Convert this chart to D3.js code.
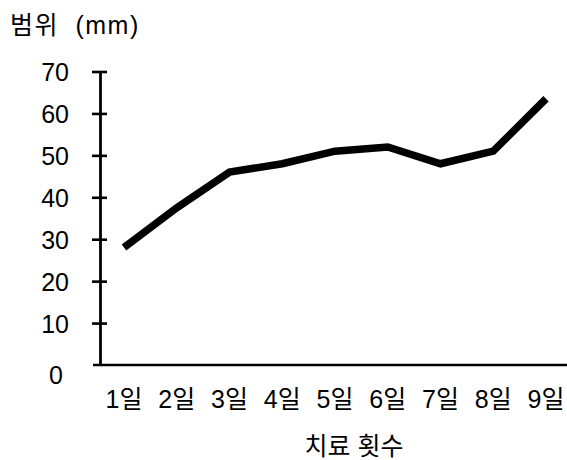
<!DOCTYPE html>
<html><head><meta charset="utf-8">
<script src="https://cdn.jsdelivr.net/npm/d3@7"></script>
<style>
body{margin:0;background:#fff;}
text{font-family:"Liberation Sans","Noto Sans CJK KR",sans-serif;fill:#000;}
</style></head>
<body><svg id="c" width="567" height="460"></svg>
<script>
const categories = ["1일","2일","3일","4일","5일","6일","7일","8일","9일"];
const values = [28, 37.5, 46, 48, 51, 52, 48, 51, 63.5];
const yTicks = [0,10,20,30,40,50,60,70];
const yTitle = "범위 (mm)";
const xTitle = "치료 횟수";

const svg = d3.select("#c");
const x = d3.scalePoint().domain(categories).range([124, 546]);
const y = d3.scaleLinear().domain([0,70]).range([365, 71.5]);
const fs = 25;

// y axis
const ya = svg.append("g").attr("transform","translate(100,0)")
  .call(d3.axisLeft(y).tickValues(yTicks).tickSize(8).tickPadding(0).tickSizeOuter(0));
ya.select(".domain").attr("stroke","#000").attr("stroke-width",2.8);
ya.selectAll(".tick line").attr("x1",-8).attr("x2",7).attr("stroke","#000").attr("stroke-width",2.6);
ya.selectAll(".tick text").attr("x",-31).attr("font-size",fs).attr("font-family",null)
  .attr("dy","0.36em")
  .filter(d=>d===0).attr("x",-37).attr("dy","0.72em");
ya.selectAll(".tick").filter(d=>d===0).select("line").remove();

// x axis line
svg.append("line").attr("x1",93).attr("x2",567).attr("y1",y(0)).attr("y2",y(0))
  .attr("stroke","#000").attr("stroke-width",2.6);

// x labels
svg.append("g").selectAll("text").data(categories).join("text")
  .attr("x",d=>x(d)).attr("y",408).attr("text-anchor","middle")
  .attr("font-size",fs).text(d=>d);

// line
const line = d3.line().x((d,i)=>x(categories[i])).y(d=>y(d));
svg.append("path").datum(values).attr("d",line)
  .attr("fill","none").attr("stroke","#000").attr("stroke-width",7.5)
  .attr("stroke-linejoin","miter");

// titles
svg.append("text").attr("x",10).attr("y",34).attr("font-size",fs)
  .style("word-spacing","8px").style("letter-spacing","1.5px").text(yTitle);
svg.append("text").attr("x",354).attr("y",455).attr("text-anchor","middle")
  .attr("font-size",fs).text(xTitle);
</script></body></html>
